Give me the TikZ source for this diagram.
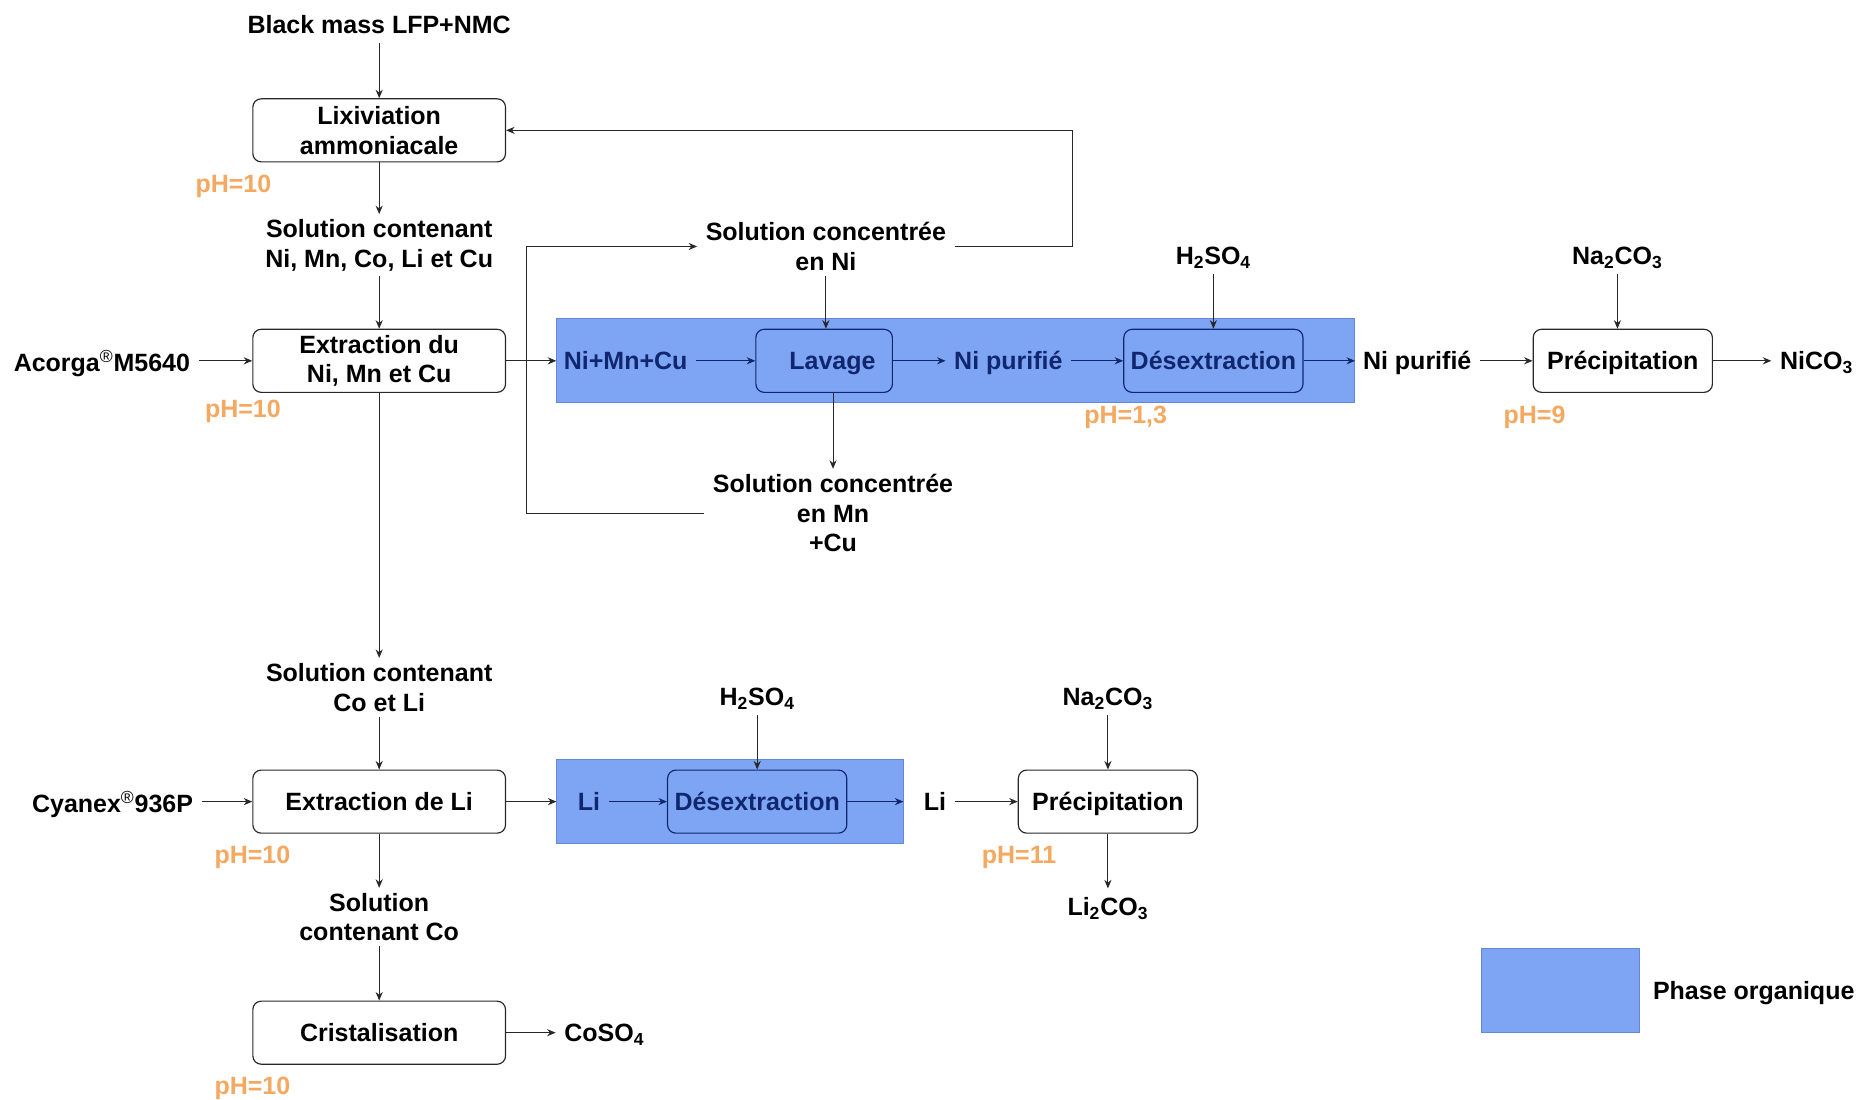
\documentclass[tikz,border=0pt]{standalone}
\usepackage{fontspec}
\setmainfont{Liberation Sans}
\usetikzlibrary{positioning,arrows.meta}
\definecolor{orgblue}{RGB}{126,165,243}
\definecolor{orgedge}{RGB}{100,136,212}
\definecolor{orgnavy}{RGB}{16,38,110}
\definecolor{phorange}{RGB}{244,168,96}
\definecolor{lnkgrey}{RGB}{40,40,40}
\tikzset{
  txt/.style={font=\fontsize{15}{17.8}\selectfont\bfseries, align=center,
              inner xsep=5pt, inner ysep=3pt},
  one/.style={text height=13pt, text depth=2.3pt},
  proc/.style={txt, draw=lnkgrey, line width=0.7pt, rounded corners=5pt,
               fill=white, inner xsep=3pt, minimum width=5.33cm, minimum height=1.33cm},
  sproc/.style={proc, one, minimum width=3.78cm},
  oproc/.style={sproc, fill=orgblue, draw=orgnavy, text=orgnavy},
  otxt/.style={txt, one, text=orgnavy},
  ph/.style={txt, one, text=phorange},
  phase/.style={draw=orgedge, fill=orgblue, line width=0.5pt,
                minimum height=1.77cm, inner sep=0pt},
  flow/.style={-{Stealth[length=1.8mm, width=1.5mm]}, line width=0.6pt, color=lnkgrey},
  oflow/.style={flow, color=orgnavy},
}
\newcommand{\regd}{\textsuperscript{\mdseries\textregistered}}

\begin{document}
\begin{tikzpicture}[x=0.025cm, y=-0.025cm]
\useasboundingbox (0,0) rectangle (1568,928);

% organic phase zones
\node[phase, minimum width=16.83cm] (org1) at (806.5,304.5) {};
\node[phase, minimum width=7.3cm] (org2) at (616,676.5) {};

% main column
\node[txt, one] (bm) at (320,21) {Black mass LFP+NMC};
\node[proc] (lix) at (320,110) {Lixiviation\\ammoniacale};
\node[ph] (ph1) at (197,155) {pH=10};
\node[txt] (sol1) at (320,207) {Solution contenant\\Ni, Mn, Co, Li et Cu};
\node[proc] (exni) at (320,304.5) {Extraction du\\Ni, Mn et Cu};
\node[txt, one] (aco) at (86,306) {Acorga\regd M5640};
\node[ph] (ph2) at (205,345) {pH=10};
\node[txt] (sol2) at (320,580) {Solution contenant\\Co et Li};
\node[proc, one] (exli) at (320,676.5) {Extraction de Li};
\node[txt, one] (cya) at (95,678) {Cyanex\regd 936P};
\node[ph] (ph3) at (213,721) {pH=10};
\node[txt] (sol3) at (320,774) {Solution\\contenant Co};
\node[proc, one] (cri) at (320,871.5) {Cristalisation};
\node[ph] (ph4) at (213,916) {pH=10};
\node[txt, one] (coso) at (510,871.5) {CoSO\textsubscript{4}};

% nickel line
\node[otxt] (nmc) at (528,304.5) {Ni+Mn+Cu};
\node[oproc, minimum width=2.88cm] (lav) at (695.5,304.5) {\hspace{0.35cm}Lavage};
\node[otxt] (nip1) at (851,304.5) {Ni purifié};
\node[oproc] (des1) at (1024,304.5) {Désextraction};
\node[txt, one] (hs1) at (1024,216) {H\textsubscript{2}SO\textsubscript{4}};
\node[ph] (ph5) at (950,350) {pH=1,3};
\node[txt, one] (nip2) at (1196,304.5) {Ni purifié};
\node[sproc] (pre1) at (1369.5,304.5) {Précipitation};
\node[txt, one] (nc1) at (1365,216) {Na\textsubscript{2}CO\textsubscript{3}};
\node[ph] (ph6) at (1295,350) {pH=9};
\node[txt, one] (nico) at (1533,304.5) {NiCO\textsubscript{3}};
\node[txt] (sni) at (697,208) {Solution concentrée\\en Ni};
\node[txt] (smn) at (703,433) {Solution concentrée\\en Mn\\+Cu};
\coordinate (rt) at (905,110);
\coordinate (lt) at (444,433);

% lithium line
\node[otxt] (li1) at (497,676.5) {Li};
\node[oproc] (des2) at (639,676.5) {Désextraction};
\node[txt, one] (hs2) at (639,588) {H\textsubscript{2}SO\textsubscript{4}};
\node[txt, one] (li2) at (789,676.5) {Li};
\node[sproc] (pre2) at (935,676.5) {Précipitation};
\node[txt, one] (nc2) at (935,588) {Na\textsubscript{2}CO\textsubscript{3}};
\node[ph] (ph7) at (860,721) {pH=11};
\node[txt, one] (lco) at (935,765) {Li\textsubscript{2}CO\textsubscript{3}};

% legend
\node[phase, minimum width=3.33cm] (leg) at (1316.5,835.5) {};
\node[txt, one] (legt) at (1480,836) {Phase organique};

% flows
\draw[flow] (bm) -- (lix);
\draw[flow] (lix) -- (sol1);
\draw[flow] (sol1) -- (exni);
\draw[flow] (aco.east |- exni) -- (exni);
\draw[flow] (exni.east) -- (org1.west);
\draw[oflow] (nmc) -- (lav);
\draw[oflow] (lav) -- (nip1);
\draw[oflow] (nip1) -- (des1);
\draw[oflow] (des1) -- (org1.east);
\draw[flow] (hs1) -- (des1);
\draw[flow] (nip2) -- (pre1);
\draw[flow] (pre1) -- (nico);
\draw[flow] (nc1) -- (nc1 |- pre1.north);
\draw[flow] (sni) -- (sni |- lav.north);
\draw[flow] (lav.south -| smn.north) -- (smn.north);
\draw[flow] (sni.east) -| (rt) -- (lix.east);
\draw[flow] (smn.west) -- (lt) |- (sni.west);
\draw[flow] (exni) -- (sol2);
\draw[flow] (sol2) -- (exli);
\draw[flow] (cya.east |- exli) -- (exli);
\draw[flow] (exli.east) -- (org2.west);
\draw[oflow] (li1) -- (des2);
\draw[oflow] (des2) -- (org2.east);
\draw[flow] (hs2) -- (des2);
\draw[flow] (li2) -- (pre2);
\draw[flow] (nc2) -- (pre2);
\draw[flow] (pre2) -- (lco);
\draw[flow] (exli) -- (sol3);
\draw[flow] (sol3) -- (cri);
\draw[flow] (cri) -- (coso);
\end{tikzpicture}
\end{document}
